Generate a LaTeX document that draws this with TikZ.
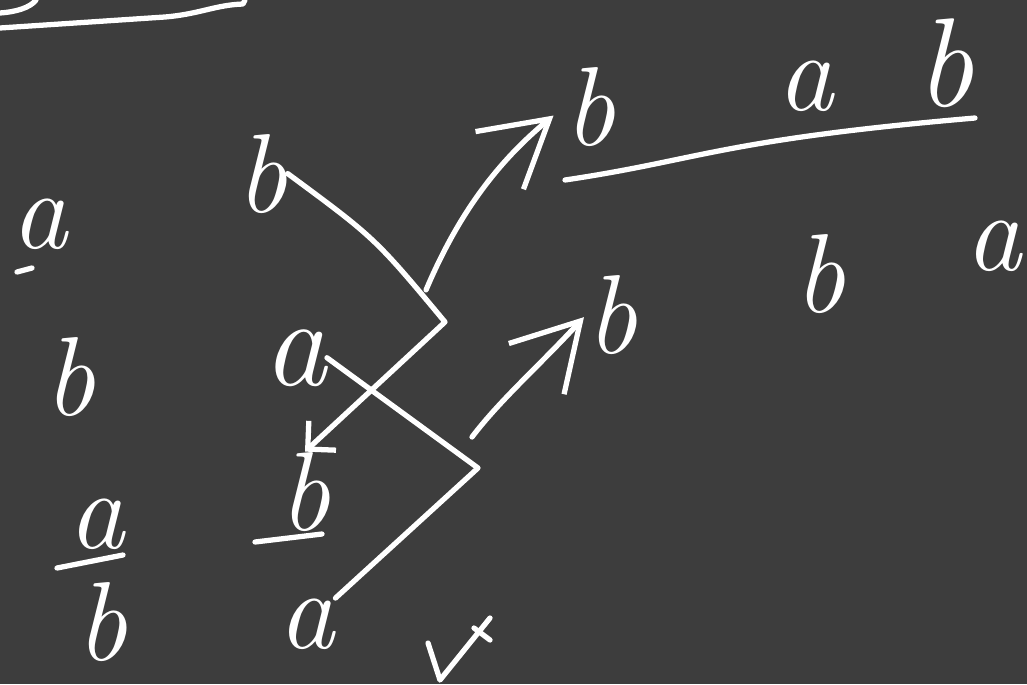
\documentclass[tikz,border=0pt]{standalone}
\usetikzlibrary{arrows.meta}
\definecolor{board}{HTML}{3D3D3D}
\begin{document}
\begin{tikzpicture}[x=0.02cm, y=-0.02cm,
  ltr/.style={text=white, font=\fontsize{64}{64}\selectfont\itshape, inner sep=0pt, anchor=base},
  bigltr/.style={ltr, font=\fontsize{72}{72}\selectfont\itshape},
  chalk/.style={draw=white, line width=3pt, line cap=round, line join=round},
  barb/.style={-{Straight Barb[length=1.3cm, width=1.5cm, line width=3pt]}}]
  \useasboundingbox (0,0) rectangle (1027,684);
  \clip (0,0) rectangle (1027,684);
  \fill[board] (0,0) rectangle (1027,684);
  % top left leftovers
  \draw[chalk] (0,13) .. controls (15,12) and (30,8) .. (36,0);
  \draw[chalk] (0,28) -- (165,17) .. controls (200,14) and (215,5) .. (243,4) -- (245,0);
  % left column
  \node[ltr] (a1) at (40,248) {a};
  \node[ltr] (b2) at (70,415) {b};
  \node[ltr] (a3) at (97,548) {a};
  \node[ltr] (b3) at (102,660) {b};
  \draw[chalk] (17,272) -- (32,268);
  \draw[chalk] (57,568) -- (123,555);
  % second column
  \node[ltr] (b1) at (262,212) {b};
  \node[bigltr] (a2) at (295,385) {a};
  \node[ltr] (b4) at (305,530) {b};
  \node[ltr] (a4) at (307,648) {a};
  \draw[chalk] (255,542) -- (322,534);
  % crossing lines
  \coordinate (k1) at (445,322);
  \coordinate (k2) at (478,468);
  \draw[chalk, -{Straight Barb[length=0.4cm, width=0.8cm, line width=3pt]}]
    (b1.east) .. controls (375,238) .. (k1) -- (b4.north);
  \draw[chalk] (a2.east) -- (k2) -- (a4.north east);
  % arrows to the right
  \coordinate (j1) at (426,290);
  \coordinate (j2) at (472,437);
  \node[ltr] (b5) at (590,145) {b};
  \node[ltr] (b8) at (612,353) {b};
  \draw[chalk, barb, shorten >=8pt] (j1) .. controls (460,210) and (500,160) .. (b5.west);
  \draw[chalk, barb, shorten >=2pt] (j2) .. controls (500,400) and (540,365) .. (b8.west);
  % top right
  \node[ltr] (a5) at (806,110) {a};
  \node[bigltr] (b6) at (945,106) {b};
  \draw[chalk] (565,180) .. controls (700,160) and (720,140) .. (975,118);
  \node[ltr] (b7) at (820,312) {b};
  \node[ltr] (a6) at (994,270) {a};
  % tick
  \draw[chalk] (428,643) -- (440,680) -- (490,618);
  \draw[chalk] (474,628) -- (490,640);
\end{tikzpicture}
\end{document}
